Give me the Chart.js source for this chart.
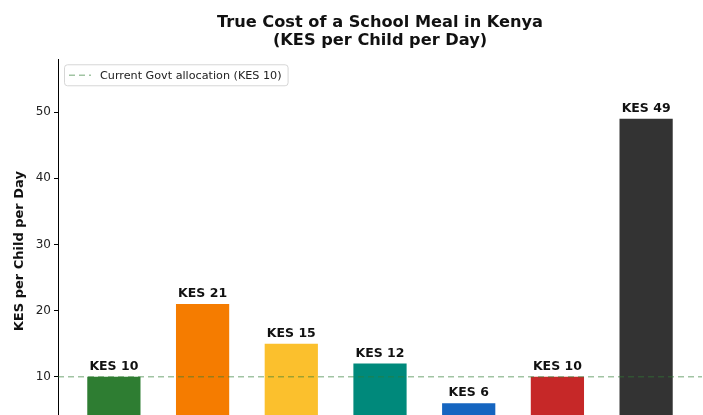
<!DOCTYPE html>
<html>
<head>
<meta charset="utf-8">
<script src="https://cdn.jsdelivr.net/npm/chart.js@4"></script>
<style>
  html, body { margin: 0; padding: 0; background: #fff; overflow: hidden; }
  #wrap { width: 703px; height: 483px; }
</style>
</head>
<body>
<div id="wrap"><canvas id="meal_chart" width="703" height="483"></canvas></div>
<script>
const categories = ['Cereals', 'Pulses', 'Vegetables', 'Oil & Salt', 'Fuel', 'Cook Wages', 'Full Meal']
const costs = [10, 21, 15, 12, 6, 10, 49]
const barColors = ['#2e7d32', '#f57c00', '#fbc02d', '#00897b', '#1565c0', '#c62828', '#333333']
const govtAllocation = 10
const yTicks = [0, 10, 20, 30, 40, 50]

const font = 'DejaVu Sans'
const xMin = -0.63
const xMax = categories.length - 1 + 0.63

// value labels above the bars
const barLabels = {
  id: 'barLabels',
  afterDatasetsDraw(chart) {
    const ctx = chart.ctx
    const meta = chart.getDatasetMeta(0)
    ctx.save()
    ctx.font = 'bold 12.5px "' + font + '"'
    ctx.fillStyle = '#111'
    ctx.textAlign = 'center'
    ctx.textBaseline = 'alphabetic'
    meta.data.forEach((bar, i) => {
      ctx.fillText('KES ' + costs[i], bar.x, bar.y - 7)
    })
    ctx.restore()
  }
}

// legend box inside the axes, upper left
const insideLegend = {
  id: 'insideLegend',
  afterDraw(chart) {
    const ctx = chart.ctx
    const ds = chart.data.datasets[1]
    const x = chart.chartArea.left + 6
    const y = chart.chartArea.top + 5
    ctx.save()
    ctx.font = '11.2px "' + font + '"'
    const w = ctx.measureText(ds.label).width + 42
    const h = 21
    ctx.fillStyle = 'rgba(255,255,255,0.85)'
    ctx.strokeStyle = '#d6d6d6'
    ctx.lineWidth = 1
    ctx.beginPath()
    ctx.roundRect(x + 0.5, y + 0.5, w, h, 3)
    ctx.fill()
    ctx.stroke()
    ctx.strokeStyle = ds.borderColor
    ctx.lineWidth = ds.borderWidth
    ctx.setLineDash(ds.borderDash)
    ctx.beginPath()
    ctx.moveTo(x + 5, y + h / 2 + 0.5)
    ctx.lineTo(x + 27, y + h / 2 + 0.5)
    ctx.stroke()
    ctx.fillStyle = '#222'
    ctx.textBaseline = 'middle'
    ctx.fillText(ds.label, x + 36, y + h / 2 + 1)
    ctx.restore()
  }
}

new Chart(document.querySelector('#meal_chart'), {
  type: 'bar',
  data: {
    datasets: [{
      data: costs.map((v, i) => ({ x: i, y: v })),
      backgroundColor: barColors,
      barPercentage: 0.6,
      categoryPercentage: 1,
      order: 1
    }, {
      type: 'line',
      label: 'Current Govt allocation (KES ' + govtAllocation + ')',
      data: [{ x: xMin, y: govtAllocation }, { x: xMax, y: govtAllocation }],
      borderColor: 'rgba(46,125,50,0.45)',
      borderWidth: 1.5,
      borderDash: [6, 4],
      pointRadius: 0,
      order: 0
    }]
  },
  options: {
    responsive: false,
    animation: false,
    layout: { padding: { left: 0, right: 1, top: 0, bottom: 0 } },
    plugins: {
      legend: { display: false },
      tooltip: { enabled: false },
      title: {
        display: true,
        fullSize: false,
        text: ['True Cost of a School Meal in Kenya', '(KES per Child per Day)'],
        color: '#111',
        font: { family: font, size: 16.2, weight: 'bold', lineHeight: 1.12 },
        padding: { top: 14, bottom: 9 }
      }
    },
    scales: {
      x: {
        type: 'linear',
        offset: false,
        min: xMin,
        max: xMax,
        afterFit: s => { s.height = 40 },
        afterBuildTicks: s => { s.ticks = categories.map((c, i) => ({ value: i })) },
        grid: { display: false, offset: false },
        border: { display: true, color: '#000' },
        ticks: {
          autoSkip: false,
          maxRotation: 0,
          color: '#222',
          font: { family: font, size: 11 },
          callback: v => categories[v]
        }
      },
      y: {
        min: 0,
        max: 58,
        afterFit: s => { s.width = 58 },
        afterBuildTicks: s => { s.ticks = yTicks.map(v => ({ value: v })) },
        grid: { drawOnChartArea: false, tickLength: 4, color: '#000' },
        border: { display: true, color: '#000', width: 1 },
        ticks: {
          padding: 3,
          color: '#222',
          font: { family: font, size: 12 }
        },
        title: {
          display: true,
          text: 'KES per Child per Day',
          color: '#111',
          font: { family: font, size: 13, weight: 'bold', lineHeight: 1.2 },
          padding: { top: 12, bottom: 0 }
        }
      }
    }
  },
  plugins: [barLabels, insideLegend]
})
</script>
</body>
</html>
